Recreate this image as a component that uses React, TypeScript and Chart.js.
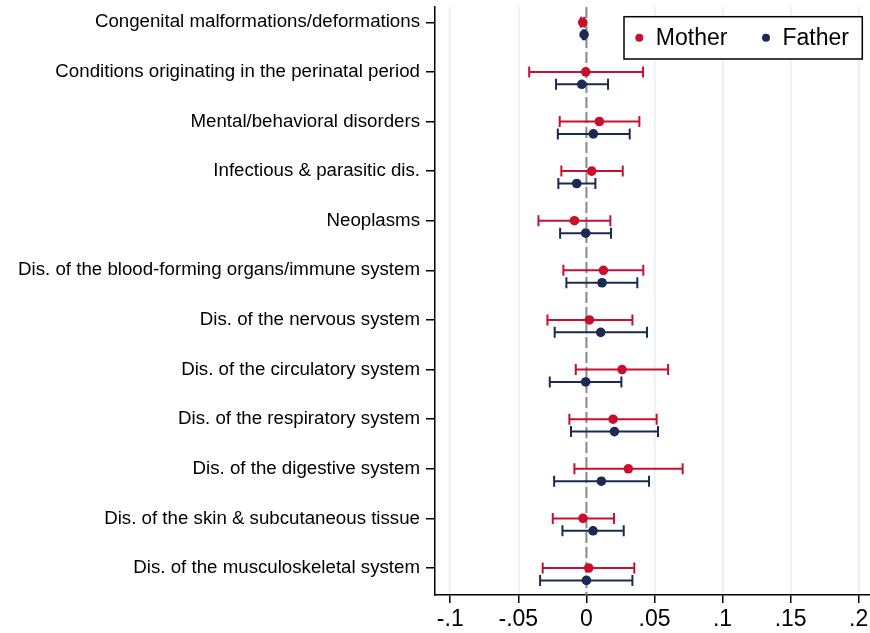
import { useEffect, useRef } from 'react';
import { Chart, registerables, Plugin } from 'chart.js';

Chart.register(...registerables);

const categories = [
  'Congenital malformations/deformations',
  'Conditions originating in the perinatal period',
  'Mental/behavioral disorders',
  'Infectious & parasitic dis.',
  'Neoplasms',
  'Dis. of the blood-forming organs/immune system',
  'Dis. of the nervous system',
  'Dis. of the circulatory system',
  'Dis. of the respiratory system',
  'Dis. of the digestive system',
  'Dis. of the skin & subcutaneous tissue',
  'Dis. of the musculoskeletal system',
];

const motherEst = [-0.0027, -0.0005, 0.0095, 0.0039, -0.0088, 0.0125, 0.0022, 0.0262, 0.0196, 0.0308, -0.0025, 0.0017];
const motherLo = [-0.004, -0.042, -0.0196, -0.0184, -0.0352, -0.0169, -0.0286, -0.0078, -0.0125, -0.0088, -0.0247, -0.0321];
const motherHi = [-0.0015, 0.0416, 0.0389, 0.0267, 0.0176, 0.0418, 0.0338, 0.06, 0.0516, 0.0707, 0.0203, 0.0352];

const fatherEst = [-0.0017, -0.0034, 0.0051, -0.0071, -0.0005, 0.0115, 0.0105, -0.0005, 0.0206, 0.011, 0.0049, 0.0];
const fatherLo = [-0.0025, -0.0223, -0.021, -0.0206, -0.0193, -0.0147, -0.0233, -0.0269, -0.0113, -0.0237, -0.0176, -0.034];
const fatherHi = [-0.001, 0.0159, 0.0318, 0.0066, 0.0181, 0.0374, 0.0445, 0.0257, 0.0526, 0.046, 0.0274, 0.0338];

const xTickValues = [-0.1, -0.05, 0, 0.05, 0.1, 0.15, 0.2];
const xTickLabels = ['-.1', '-.05', '0', '.05', '.1', '.15', '.2'];

const seriesNames = ['Mother', 'Father'];
const RED = '#c8102e';
const NAVY = '#1a2a52';
const FONT = "'Liberation Sans', Arial, sans-serif";

// dashed reference line at x = 0
const zeroLine: Plugin = {
  id: 'zeroLine',
  beforeDatasetsDraw(chart) {
    const { ctx, chartArea, scales } = chart;
    const x = scales.x.getPixelForValue(0);
    ctx.save();
    ctx.strokeStyle = '#8a8a8a';
    ctx.lineWidth = 2;
    ctx.setLineDash([11, 4]);
    ctx.beginPath();
    ctx.moveTo(x, chartArea.top);
    ctx.lineTo(x, chartArea.bottom);
    ctx.stroke();
    ctx.restore();
  },
};

// horizontal CI bars with caps, drawn under the points
const errorBars: Plugin = {
  id: 'errorBars',
  beforeDatasetsDraw(chart) {
    const { ctx, scales } = chart;
    const cap = 5.5;
    chart.data.datasets.forEach((ds: any) => {
      const lo: number[] = ds.lo;
      const hi: number[] = ds.hi;
      ctx.save();
      ctx.strokeStyle = ds.backgroundColor;
      ctx.lineWidth = 2;
      (ds.data as { x: number; y: number }[]).forEach((p, i) => {
        const y = scales.y.getPixelForValue(p.y);
        const x0 = scales.x.getPixelForValue(lo[i]);
        const x1 = scales.x.getPixelForValue(hi[i]);
        ctx.beginPath();
        ctx.moveTo(x0, y);
        ctx.lineTo(x1, y);
        ctx.moveTo(x0, y - cap);
        ctx.lineTo(x0, y + cap);
        ctx.moveTo(x1, y - cap);
        ctx.lineTo(x1, y + cap);
        ctx.stroke();
      });
      ctx.restore();
    });
  },
};

// Stata-style boxed legend in the top right of the plot
const boxLegend: Plugin = {
  id: 'boxLegend',
  afterDraw(chart) {
    const { ctx, chartArea } = chart;
    const right = chartArea.right - 7.7;
    const left = right - 238.3;
    const top = chartArea.top + 9.7;
    const h = 42.3;
    ctx.save();
    ctx.fillStyle = '#fff';
    ctx.fillRect(left, top, right - left, h);
    ctx.strokeStyle = '#000';
    ctx.lineWidth = 1.5;
    ctx.strokeRect(left, top, right - left, h);
    const cy = top + h / 2;
    const colors = [RED, NAVY];
    const offsets = [15.3, 142];
    ctx.font = `23px ${FONT}`;
    ctx.textBaseline = 'middle';
    seriesNames.forEach((name, i) => {
      const x = left + offsets[i];
      ctx.fillStyle = colors[i];
      ctx.beginPath();
      ctx.arc(x, cy, 4, 0, Math.PI * 2);
      ctx.fill();
      ctx.fillStyle = '#000';
      ctx.fillText(name, x + 16.5, cy + 1);
    });
    ctx.restore();
  },
};

export default function App() {
  const canvasRef = useRef<HTMLCanvasElement | null>(null);

  useEffect(() => {
    document.body.style.margin = '0';
    if (!canvasRef.current) return;
    const chart = new Chart(canvasRef.current, {
      type: 'scatter',
      data: {
        datasets: [
          {
            label: seriesNames[0],
            data: categories.map((_, i) => ({ x: motherEst[i], y: i })),
            backgroundColor: RED,
            pointRadius: 4.8,
            pointBorderWidth: 0,
            lo: motherLo,
            hi: motherHi,
          } as any,
          {
            label: seriesNames[1],
            data: categories.map((_, i) => ({ x: fatherEst[i], y: i + 0.25 })),
            backgroundColor: NAVY,
            pointRadius: 4.8,
            pointBorderWidth: 0,
            lo: fatherLo,
            hi: fatherHi,
          } as any,
        ],
      },
      options: {
        animation: false,
        responsive: true,
        maintainAspectRatio: false,
        layout: { autoPadding: false, padding: { top: 7, right: 0, left: 0, bottom: 0 } },
        scales: {
          x: {
            type: 'linear',
            min: -0.1112,
            max: 0.2083,
            afterBuildTicks: (scale) => {
              scale.ticks = xTickValues.map((v) => ({ value: v }));
            },
            afterFit: (scale: any) => {
              scale.height = 38;
              scale.paddingLeft = 0;
              scale.paddingRight = 0;
            },
            ticks: {
              autoSkip: false,
              maxRotation: 0,
              color: '#000',
              padding: 3,
              font: { size: 23, family: FONT },
              callback: (v) => xTickLabels[xTickValues.indexOf(Number(v))] ?? '',
            },
            grid: {
              color: '#e6eef0',
              lineWidth: 1.5,
              tickColor: '#000',
              tickLength: 8,
            },
            border: { color: '#000', width: 1.5 },
          },
          y: {
            type: 'linear',
            reverse: true,
            min: -0.308,
            max: 11.544,
            afterBuildTicks: (scale) => {
              scale.ticks = categories.map((_, i) => ({ value: i }));
            },
            afterFit: (scale: any) => {
              scale.width = 435;
              scale.paddingTop = 0;
              scale.paddingBottom = 0;
            },
            ticks: {
              autoSkip: false,
              color: '#000',
              padding: 6,
              font: { size: 18.7, family: FONT },
              callback: (v) => categories[Number(v)] ?? '',
            },
            grid: {
              drawOnChartArea: false,
              color: '#000',
              lineWidth: 1.5,
              tickLength: 9,
            },
            border: { color: '#000', width: 1.5 },
          },
        },
        plugins: {
          legend: { display: false },
          tooltip: { enabled: false },
        },
      },
      plugins: [zeroLine, errorBars, boxLegend],
    });
    return () => chart.destroy();
  }, []);

  return (
    <div style={{ position: 'relative', width: 870, height: 633, background: '#fff' }}>
      <canvas ref={canvasRef} />
    </div>
  );
}
